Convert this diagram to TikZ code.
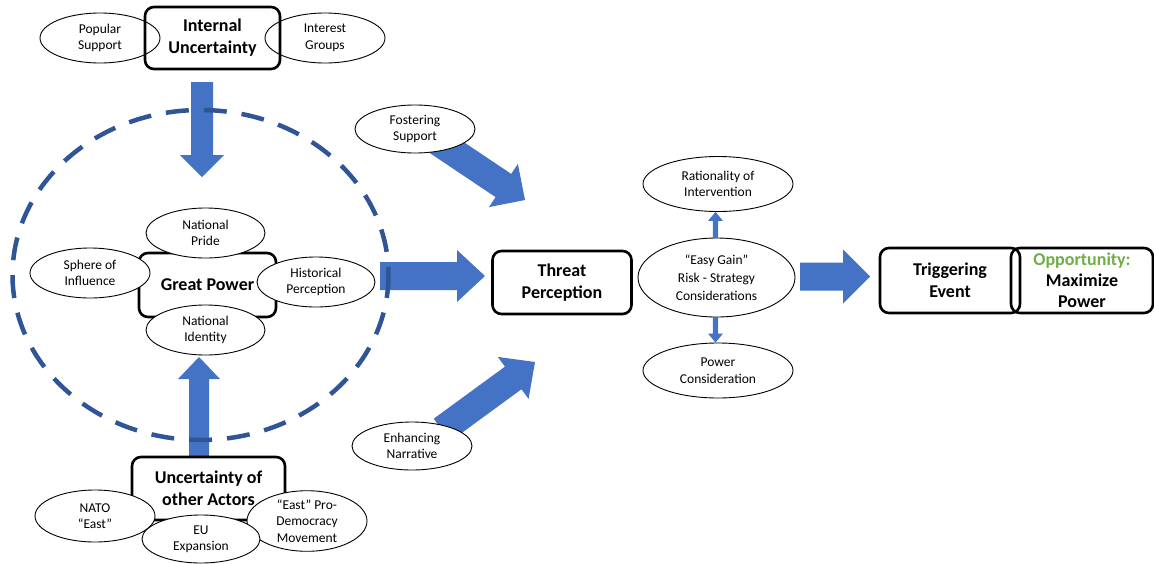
\documentclass[tikz,border=0pt]{standalone}
\usepackage{fontspec}
\setmainfont{Carlito}
\usetikzlibrary{shapes.geometric,calc}
\definecolor{arrowblue}{HTML}{4472C4}
\definecolor{ringblue}{HTML}{2F5597}
\definecolor{oppgreen}{HTML}{70AD47}
\pgfdeclarelayer{bg}
\pgfsetlayers{bg,main}
% block arrow: name, start, tip, shaft half-width, head half-width, head length
\newcommand\blockarrow[6]{%
  \coordinate (#1-h) at ($(#3)!#6!(#2)$);
  \fill[arrowblue] ($(#2)!#4!90:(#3)$) -- ($(#1-h)!#4!90:(#3)$) -- ($(#1-h)!#5!90:(#3)$)
    -- (#3) -- ($(#1-h)!#5!-90:(#3)$) -- ($(#1-h)!#4!-90:(#3)$) -- ($(#2)!#4!-90:(#3)$) -- cycle;
}
\tikzset{
  mainbox/.style={draw, line width=2.6pt, rounded corners=9pt, align=center,
    font=\bfseries\fontsize{18}{22}\selectfont, inner sep=0pt},
  factor/.style={draw, ellipse, fill=white, line width=0.9pt, inner sep=0pt, align=center,
    font=\fontsize{13.5}{16.5}\selectfont},
}
\begin{document}
\begin{tikzpicture}[x=1pt,y=-1pt]
\useasboundingbox (0,0) rectangle (1154,563);

% domestic level
\node[factor, minimum width=120, minimum height=50] (ps) at (100,38) {Popular\\Support};
\node[factor, minimum width=120, minimum height=50] (ig) at (325,38) {Interest\\Groups};
\node[mainbox, minimum width=135, minimum height=62] (iu) at (212.5,38) {Internal\\Uncertainty};

% great power identity
\node[mainbox, minimum width=137, minimum height=64] (gp) at (207.5,285) {Great Power};
\node[factor, minimum width=119, minimum height=50] (np) at (205.5,233) {National\\Pride};
\node[factor, minimum width=120, minimum height=50] (si) at (90,273) {Sphere of\\Influence};
\node[factor, minimum width=118, minimum height=50] (hp) at (316,282) {Historical\\Perception};
\node[factor, minimum width=119, minimum height=50] (ni) at (205.5,330) {National\\Identity};

% external actors
\node[mainbox, minimum width=153, minimum height=63] (uo) at (208.5,488.5) {Uncertainty of\\other Actors};
\node[factor, minimum width=120, minimum height=52] (nato) at (95,516) {NATO\\“East”};
\node[factor, minimum width=120, minimum height=53] (ed) at (307,521) {“East” Pro-\\Democracy\\Movement};
\node[factor, minimum width=118, minimum height=48] (eu) at (201,539) {EU\\Expansion};

% threat perception
\node[factor, minimum width=120, minimum height=48] (fs) at (415,129) {Fostering\\Support};
\node[factor, minimum width=120, minimum height=48] (en) at (412,446) {Enhancing\\Narrative};
\node[mainbox, minimum width=139, minimum height=63] (tp) at (562,282.5) {Threat\\Perception};

% strategic calculation
\node[factor, minimum width=157, minimum height=79, font=\fontsize{13.5}{18}\selectfont] (eg) at (716.5,277.5) {“Easy Gain”\\Risk - Strategy\\Considerations};
\node[factor, minimum width=150, minimum height=55] (ri) at (718,184) {Rationality of\\Intervention};
\node[factor, minimum width=150, minimum height=55] (pc) at (718,370.5) {Power\\Consideration};

% outcome
\node[mainbox, minimum width=140, minimum height=65] (te) at (950,280.5) {Triggering\\Event};
\node[mainbox, minimum width=142, minimum height=65, font=\bfseries\fontsize{18}{21}\selectfont] (op) at (1082,280.5) {\textcolor{oppgreen}{Opportunity:}\\Maximize\\Power};

% connectors
\coordinate (a1s) at (202,82);    \coordinate (a1t) at (202,177);
\coordinate (a2s) at (199,456);   \coordinate (a2t) at (199,357);
\coordinate (a3s) at (380,276);   \coordinate (a3t) at (485,276);
\coordinate (a4s) at (437,141);   \coordinate (a4t) at (525,200);
\coordinate (a5s) at (442,430);   \coordinate (a5t) at (535,362);
\coordinate (a6s) at (800,276.5); \coordinate (a6t) at (870,276.5);
\coordinate (a7s) at (eg.north -| 715.5,0);  \coordinate (a7t) at (ri.south -| 715.5,0);
\coordinate (a8s) at (eg.south -| 715.5,0);  \coordinate (a8t) at (pc.north -| 715.5,0);

\begin{pgfonlayer}{bg}
  \blockarrow{a1}{a1s}{a1t}{11pt}{22pt}{22pt}
  \blockarrow{a2}{a2s}{a2t}{10pt}{21pt}{22pt}
  \blockarrow{a3}{a3s}{a3t}{14pt}{26pt}{28pt}
  \blockarrow{a4}{a4s}{a4t}{14pt}{26pt}{26pt}
  \blockarrow{a5}{a5s}{a5t}{14pt}{26pt}{27pt}
  \blockarrow{a6}{a6s}{a6t}{14pt}{27pt}{27pt}
  \blockarrow{a7}{a7s}{a7t}{2.6pt}{7.5pt}{9pt}
  \blockarrow{a8}{a8s}{a8t}{2.6pt}{7.5pt}{9pt}
  % dashed boundary of the great-power identity
  \draw[ringblue, line width=4.5pt, dash pattern=on 23pt off 15pt]
    (200.5,275) ellipse [x radius=188, y radius=165];
\end{pgfonlayer}
\end{tikzpicture}
\end{document}
